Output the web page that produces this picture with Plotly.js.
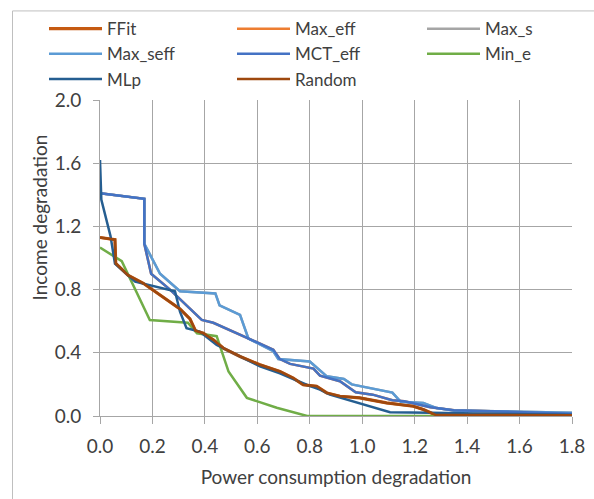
<!DOCTYPE html>
<html>
<head>
<meta charset="utf-8">
<script src="https://cdn.plot.ly/plotly-3.0.1.min.js"></script>
<style>html,body{margin:0;padding:0;background:#fff;}#chart{width:594px;height:499px;}</style>
</head>
<body>
<div id="chart"></div>
<script>
// ---- data ----
var seriesNames = ["FFit", "Max_eff", "Max_s", "Max_seff", "MCT_eff", "Min_e", "MLp", "Random"];

var ffitX = [0, 0.057, 0.06, 0.108, 0.165, 0.305, 0.343, 0.364, 0.394, 0.432, 0.47, 0.534, 0.61, 0.686, 0.737, 0.775, 0.826, 0.865, 0.915, 0.99, 1.093, 1.195, 1.233, 1.278, 1.8];
var ffitY = [1.13, 1.116, 0.965, 0.89, 0.84, 0.678, 0.615, 0.54, 0.524, 0.482, 0.43, 0.377, 0.324, 0.282, 0.24, 0.198, 0.188, 0.146, 0.125, 0.115, 0.083, 0.062, 0.041, 0.008, 0.005];

var maxEffX = [0, 0.169, 0.169, 0.195, 0.267, 0.388, 0.432, 0.56, 0.661, 0.686, 0.725, 0.814, 0.839, 0.915, 0.975, 1.04, 1.115, 1.16, 1.26, 1.35, 1.8];
var maxEffY = [1.41, 1.375, 1.09, 0.9, 0.8, 0.608, 0.59, 0.495, 0.42, 0.36, 0.33, 0.3, 0.255, 0.22, 0.15, 0.135, 0.1, 0.093, 0.055, 0.037, 0.015];

var maxSX = [0, 0.169, 0.169, 0.229, 0.305, 0.44, 0.456, 0.534, 0.566, 0.661, 0.68, 0.744, 0.8, 0.865, 0.93, 0.96, 1.115, 1.147, 1.233, 1.284, 1.35, 1.8];
var maxSY = [1.41, 1.375, 1.09, 0.9, 0.79, 0.776, 0.7, 0.64, 0.49, 0.41, 0.36, 0.352, 0.345, 0.251, 0.234, 0.2, 0.148, 0.09, 0.083, 0.05, 0.035, 0.02];

var maxSeffX = [0, 0.169, 0.169, 0.229, 0.305, 0.44, 0.456, 0.534, 0.566, 0.661, 0.68, 0.744, 0.8, 0.865, 0.93, 0.96, 1.115, 1.147, 1.233, 1.284, 1.35, 1.8];
var maxSeffY = [1.41, 1.375, 1.09, 0.9, 0.79, 0.776, 0.7, 0.64, 0.49, 0.41, 0.36, 0.352, 0.345, 0.251, 0.234, 0.2, 0.148, 0.09, 0.083, 0.05, 0.035, 0.02];

var mctEffX = [0, 0.169, 0.169, 0.195, 0.267, 0.388, 0.432, 0.56, 0.661, 0.686, 0.725, 0.814, 0.839, 0.915, 0.975, 1.04, 1.115, 1.16, 1.26, 1.35, 1.8];
var mctEffY = [1.41, 1.375, 1.09, 0.9, 0.8, 0.608, 0.59, 0.495, 0.42, 0.36, 0.33, 0.3, 0.255, 0.22, 0.15, 0.135, 0.1, 0.093, 0.055, 0.037, 0.015];

var minEX = [0, 0.083, 0.19, 0.31, 0.335, 0.37, 0.445, 0.464, 0.49, 0.56, 0.6, 0.674, 0.79, 1.8];
var minEY = [1.066, 0.98, 0.608, 0.597, 0.59, 0.524, 0.505, 0.41, 0.282, 0.115, 0.093, 0.052, 0.0, 0.0];

var mlpX = [0, 0.005, 0.04, 0.057, 0.134, 0.286, 0.305, 0.33, 0.38, 0.445, 0.61, 0.686, 0.788, 0.839, 0.877, 0.966, 1.106, 1.26, 1.8];
var mlpY = [1.62, 1.37, 1.14, 0.965, 0.85, 0.79, 0.66, 0.555, 0.534, 0.45, 0.314, 0.27, 0.198, 0.167, 0.135, 0.093, 0.024, 0.02, 0.008];

var randomX = [0, 0.057, 0.06, 0.108, 0.165, 0.305, 0.343, 0.364, 0.394, 0.432, 0.47, 0.534, 0.61, 0.686, 0.737, 0.775, 0.826, 0.865, 0.915, 0.99, 1.093, 1.195, 1.233, 1.278, 1.8];
var randomY = [1.13, 1.116, 0.965, 0.89, 0.84, 0.678, 0.615, 0.54, 0.524, 0.482, 0.43, 0.377, 0.324, 0.282, 0.24, 0.198, 0.188, 0.146, 0.125, 0.115, 0.083, 0.062, 0.041, 0.008, 0.005];

var xTickVals = [0, 0.2, 0.4, 0.6, 0.8, 1.0, 1.2, 1.4, 1.6, 1.8];
var xTickText = ["0.0", "0.2", "0.4", "0.6", "0.8", "1.0", "1.2", "1.4", "1.6", "1.8"];
var yTickVals = [0, 0.4, 0.8, 1.2, 1.6, 2.0];
var yTickText = ["0.0", "0.4", "0.8", "1.2", "1.6", "2.0"];

// ---- styling ----
var FONT = "Lato, 'Open Sans', 'Liberation Sans', sans-serif";
var colors = ["#C55A11", "#ED7D31", "#A5A5A5", "#5B9BD5", "#4472C4", "#70AD47", "#255E91", "#9E480E"];
var widths = [3.2, 2.5, 2.5, 2.5, 2.5, 2.5, 2.5, 2.5];
// legend column of each series (reference legend is a 3-column grid filled row by row)
var legendIds = ["legend", "legend2", "legend3", "legend", "legend2", "legend3", "legend", "legend2"];
var xs = [ffitX, maxEffX, maxSX, maxSeffX, mctEffX, minEX, mlpX, randomX];
var ys = [ffitY, maxEffY, maxSY, maxSeffY, mctEffY, minEY, mlpY, randomY];

var traces = seriesNames.map(function (n, i) {
  return {
    type: "scatter", mode: "lines", name: n,
    x: xs[i], y: ys[i],
    line: { color: colors[i], width: widths[i] },
    legend: legendIds[i],
    hoverinfo: "x+y+name"
  };
});

var W = 594, H = 499, ML = 100, MR = 22, MT = 99, MB = 82.5;
var PW = W - ML - MR, PH = H - MT - MB;
function px2paperX(p) { return (p - ML) / PW; }
function px2paperY(p) { return (H - MB - p) / PH; }

var gridC = "#A6A6A6", textC = "#404040";

function legendCol(px) {
  return {
    orientation: "v", xref: "paper", yref: "paper",
    x: px2paperX(px), y: px2paperY(11), xanchor: "left", yanchor: "top",
    itemwidth: 53, font: { family: FONT, size: 17, color: textC },
    bgcolor: "rgba(0,0,0,0)", traceorder: "normal", borderwidth: 0
  };
}

var layout = {
  width: W, height: H,
  margin: { l: ML, r: MR, t: MT, b: MB, pad: 0 },
  paper_bgcolor: "#fff", plot_bgcolor: "#fff",
  font: { family: FONT, size: 19, color: textC },
  showlegend: true,
  legend: legendCol(44),
  legend2: legendCol(232),
  legend3: legendCol(422),
  xaxis: {
    range: [0, 1.8], tickmode: "array", tickvals: xTickVals, ticktext: xTickText,
    showgrid: true, gridcolor: gridC, gridwidth: 1,
    showline: true, linecolor: gridC, linewidth: 1,
    ticks: "outside", ticklen: 7, tickcolor: gridC, tickwidth: 1,
    ticklabelstandoff: 6,
    zeroline: false, fixedrange: true,
    tickfont: { family: FONT, size: 19, color: textC },
    title: { text: "Power consumption degradation", font: { family: FONT, size: 19, color: textC }, standoff: 14 }
  },
  yaxis: {
    range: [0, 2.0], tickmode: "array", tickvals: yTickVals, ticktext: yTickText,
    showgrid: true, gridcolor: gridC, gridwidth: 1,
    showline: true, linecolor: gridC, linewidth: 1,
    ticks: "outside", ticklen: 6, tickcolor: gridC, tickwidth: 1,
    ticklabelstandoff: 8,
    zeroline: false, fixedrange: true,
    tickfont: { family: FONT, size: 19, color: textC }
  },
  annotations: [{
    text: "Income degradation", textangle: -90,
    xref: "paper", yref: "paper", x: px2paperX(39), y: px2paperY(217),
    xanchor: "center", yanchor: "middle", showarrow: false,
    font: { family: FONT, size: 19, color: textC }
  }],
  shapes: [{
    type: "rect", xref: "paper", yref: "paper", layer: "below",
    x0: px2paperX(12.5), x1: px2paperX(620), y0: px2paperY(520), y1: px2paperY(9.5),
    line: { color: "#BFBFBF", width: 1 }, fillcolor: "rgba(0,0,0,0)"
  }]
};

Plotly.newPlot("chart", traces, layout, { displayModeBar: false, staticPlot: true });
</script>
</body>
</html>
